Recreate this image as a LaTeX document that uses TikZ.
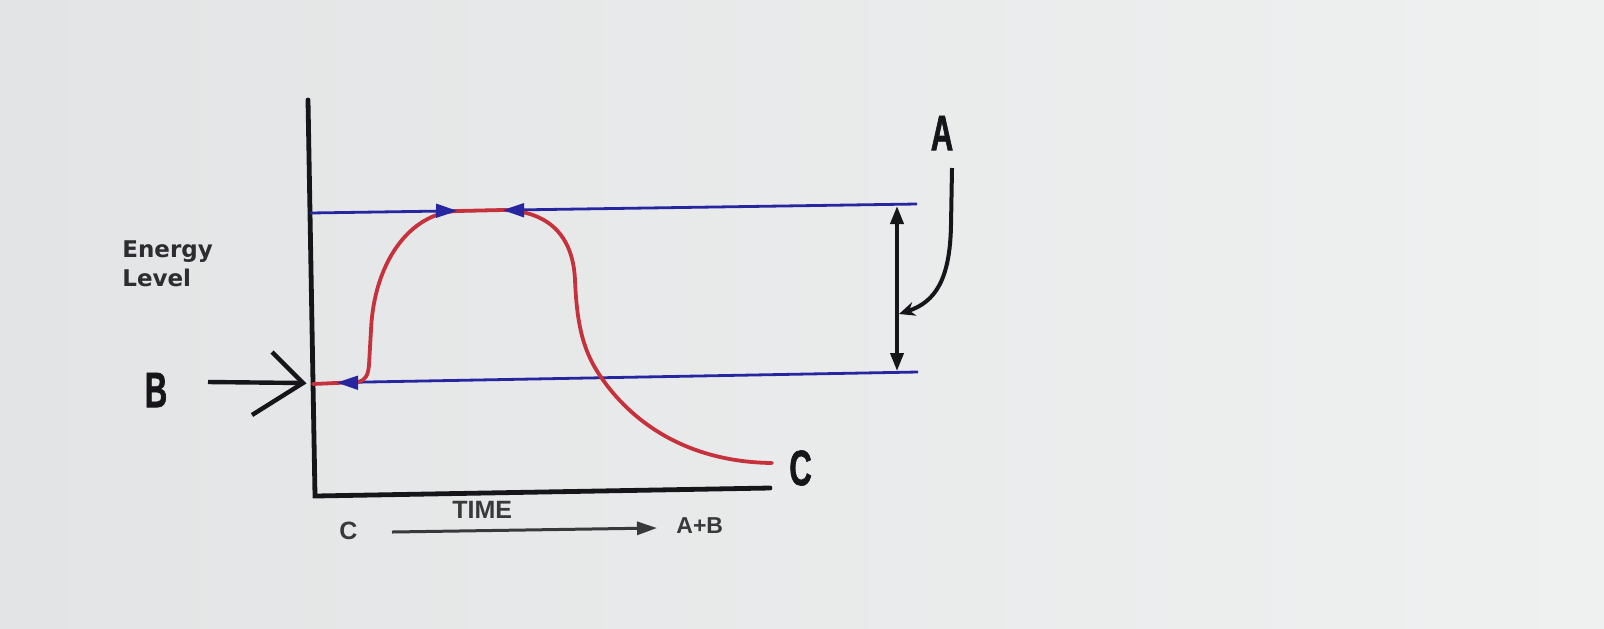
\documentclass[tikz,border=0pt]{standalone}
\usepackage{fontspec}
\setmainfont{Liberation Sans}
\newfontfamily\condb[FakeStretch=0.62,FakeBold=1.2]{Liberation Sans Bold}
\newfontfamily\labfont{DejaVu Sans Bold}
\newfontfamily\timefont{Liberation Sans Bold}
\usetikzlibrary{arrows.meta}
\definecolor{bgl}{RGB}{226,228,229}
\definecolor{bgr}{RGB}{239,241,241}
\definecolor{ink}{RGB}{22,22,26}
\definecolor{bluel}{RGB}{38,38,160}
\definecolor{redc}{RGB}{198,50,60}
\tikzset{
  axisline/.style={draw=ink, line width=2.4pt, line cap=round, line join=miter},
  blueline/.style={draw=bluel, line width=1.4pt},
  bluehead/.style={draw=none, fill=bluel},
  redcurve/.style={draw=redc, line width=1.9pt, line cap=round, line join=round},
  blackarrow/.style={draw=ink, line width=1.9pt},
  bigletter/.style={font=\condb\fontsize{25}{25}\selectfont, text=ink, inner sep=0pt},
  smalllab/.style={font=\timefont\fontsize{12.5}{12.5}\selectfont, text=ink!85, inner sep=0pt},
  ylab/.style={font=\labfont\fontsize{11.5}{14.5}\selectfont, text=ink!90, inner sep=0pt, align=left}
}
\begin{document}
\begin{tikzpicture}[x=0.5pt,y=-0.5pt]
\useasboundingbox (0,0) rectangle (1604,628);
\shade[left color=bgl, right color=bgr] (0,0) rectangle (1604,628);

% axes
\coordinate (ytop) at (308,100);
\coordinate (orig) at (315,496);
\coordinate (xend) at (770,488);
\draw[axisline] (ytop) -- (orig) -- (xend);

% blue levels
\coordinate (hiL) at (310,213);
\coordinate (hiR) at (917,204);
\coordinate (loL) at (340,382.5);
\coordinate (loR) at (918,372);
\draw[blueline] (hiL) -- (hiR);
\draw[blueline] (loL) -- (loR);

% red curve
\coordinate (rstart) at (313,384);
\coordinate (rend) at (772,463);
\draw[redcurve] (rstart) -- (358,382) .. controls (366,380) and (368,375) .. (369,365)
  -- (371,330) .. controls (374,262) and (410,213) .. (457,211)
  -- (503,210) .. controls (548,211) and (573,235) .. (575,280)
  .. controls (577,330) and (585,355) .. (603,380)
  .. controls (635,425) and (690,462) .. (rend);

% blue arrowheads
\fill[bluehead] (457,210.8) -- (436,203.5) -- (436,218) -- cycle;
\fill[bluehead] (503,210.1) -- (524,203) -- (524,217.5) -- cycle;
\fill[bluehead] (337,382.6) -- (358,375.5) -- (358,390) -- cycle;

% double arrow and A pointer
\coordinate (dtop) at (897,206);
\coordinate (dbot) at (897,371);
\draw[blackarrow, {Triangle[length=9pt,width=6.5pt]}-{Triangle[length=9pt,width=6.5pt]}] (dtop) -- (dbot);
\node[bigletter] (A) at (942,133) {A};
\coordinate (apt) at (899,314);
\draw[blackarrow, line width=2pt, -{Stealth[length=8pt,width=7pt]}] (952,168) -- (951,225) .. controls (950,280) and (935,302) .. (apt);

% B
\node[bigletter] (B) at (156,390) {B};
\coordinate (bpt) at (303,383);
\draw[blackarrow, line width=2.2pt] (208,382) -- (bpt);
\draw[blackarrow, line width=2.2pt, line join=miter] (272,352) -- (bpt) -- (252,415);

% C at end of curve
\node[bigletter, anchor=west] (C) at (789,468) {C};

% y label
\node[ylab, anchor=north west] (E) at (122,240) {Energy\\Level};

% time axis
\node[smalllab, anchor=south west] (T) at (452,518.5) {TIME};
\node[smalllab, anchor=west] (C2) at (339,531) {C};
\node[smalllab, font=\timefont\fontsize{11.5}{11.5}\selectfont, anchor=west] (AB) at (676,525.5) {A+B};
\draw[draw=ink!85, line width=1.5pt, -{Triangle[length=10pt,width=6.5pt]}] (392,532) -- (657,528);
\end{tikzpicture}
\end{document}
